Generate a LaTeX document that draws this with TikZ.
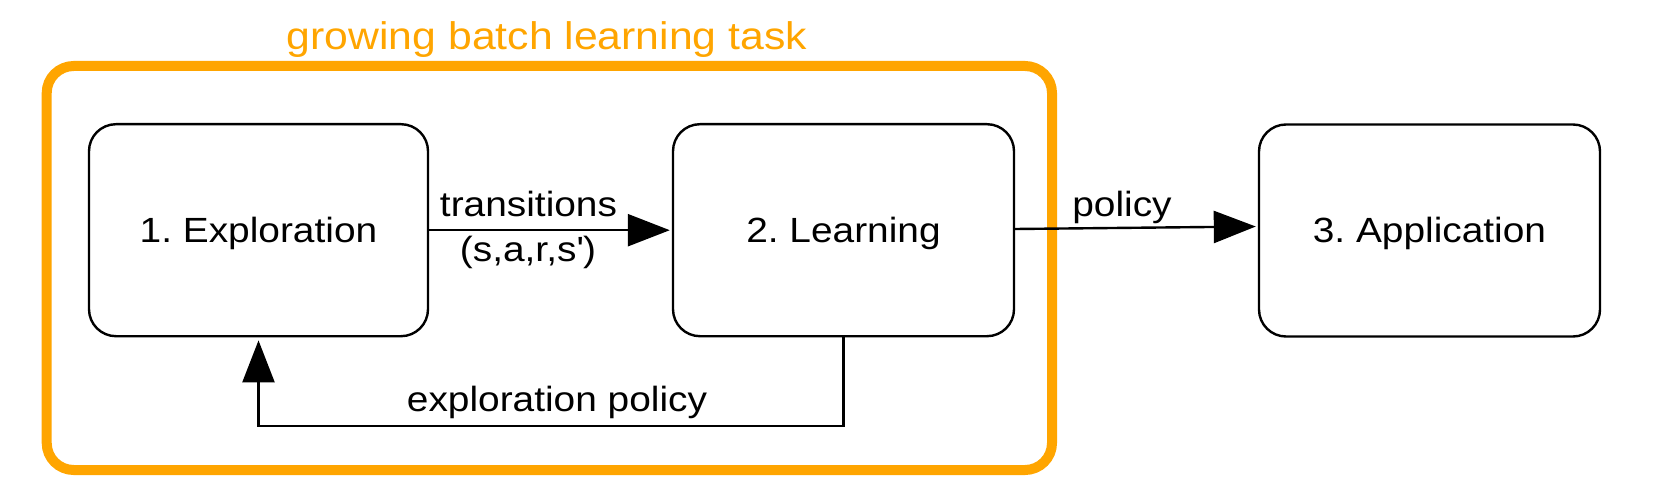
\documentclass[tikz,border=0pt]{standalone}
\usepackage{fontspec}
\setmainfont{Liberation Sans}[FakeStretch=1.11]
\usetikzlibrary{arrows.meta}
\definecolor{grouporange}{HTML}{FFA500}
\frenchspacing
\tikzset{
  stagebox/.style={draw=black, line width=2.4pt, rounded corners=27pt,
    minimum height=212pt, inner sep=0pt, text height=25pt, text depth=0pt,
    font=\fontsize{35}{42}\selectfont},
  groupbox/.style={draw=grouporange, line width=10pt, rounded corners=27pt,
    minimum width=1005.3pt, minimum height=404pt, inner sep=0pt},
  conn/.style={line width=2.4pt, -{Triangle[length=42pt,width=32pt]}, shorten >=2pt},
  lbl/.style={anchor=base, inner sep=0pt, font=\fontsize{35}{42}\selectfont},
  ttl/.style={anchor=base, inner sep=0pt, text=grouporange, font=\fontsize{38.5}{46}\selectfont}
}
\begin{document}
\begin{tikzpicture}[x=1pt,y=-1pt]
\useasboundingbox (0,0) rectangle (1656,494);
\node[groupbox] (grp) at (549.35,268) {};
\node[ttl] (title) at (547,50) {growing batch learning task};
\node[stagebox, minimum width=339pt] (b1) at (258.5,230.2) {1. Exploration};
\node[stagebox, minimum width=341pt] (b2) at (843.5,230.2) {2. Learning};
\node[stagebox, minimum width=341pt] (b3) at (1429.5,230.5) {3. Application};
\draw[conn] (b1) -- (b2);
\draw[conn] ([yshift=1.2pt]b2.east) -- ([yshift=4pt]b3.west);
\draw[conn, shorten >=3pt] (b2.south) -- ++(0,88.8) -| (b1.south);
\node[lbl] (ltrans) at (528.5,216.7) {transitions};
\node[lbl] (lsars) at (528,261.7) {(s,a,r,s\textquotesingle)};
\node[lbl] (lpol) at (1122,217) {policy};
\node[lbl] (lexp) at (557,411.7) {exploration policy};
\end{tikzpicture}
\end{document}
